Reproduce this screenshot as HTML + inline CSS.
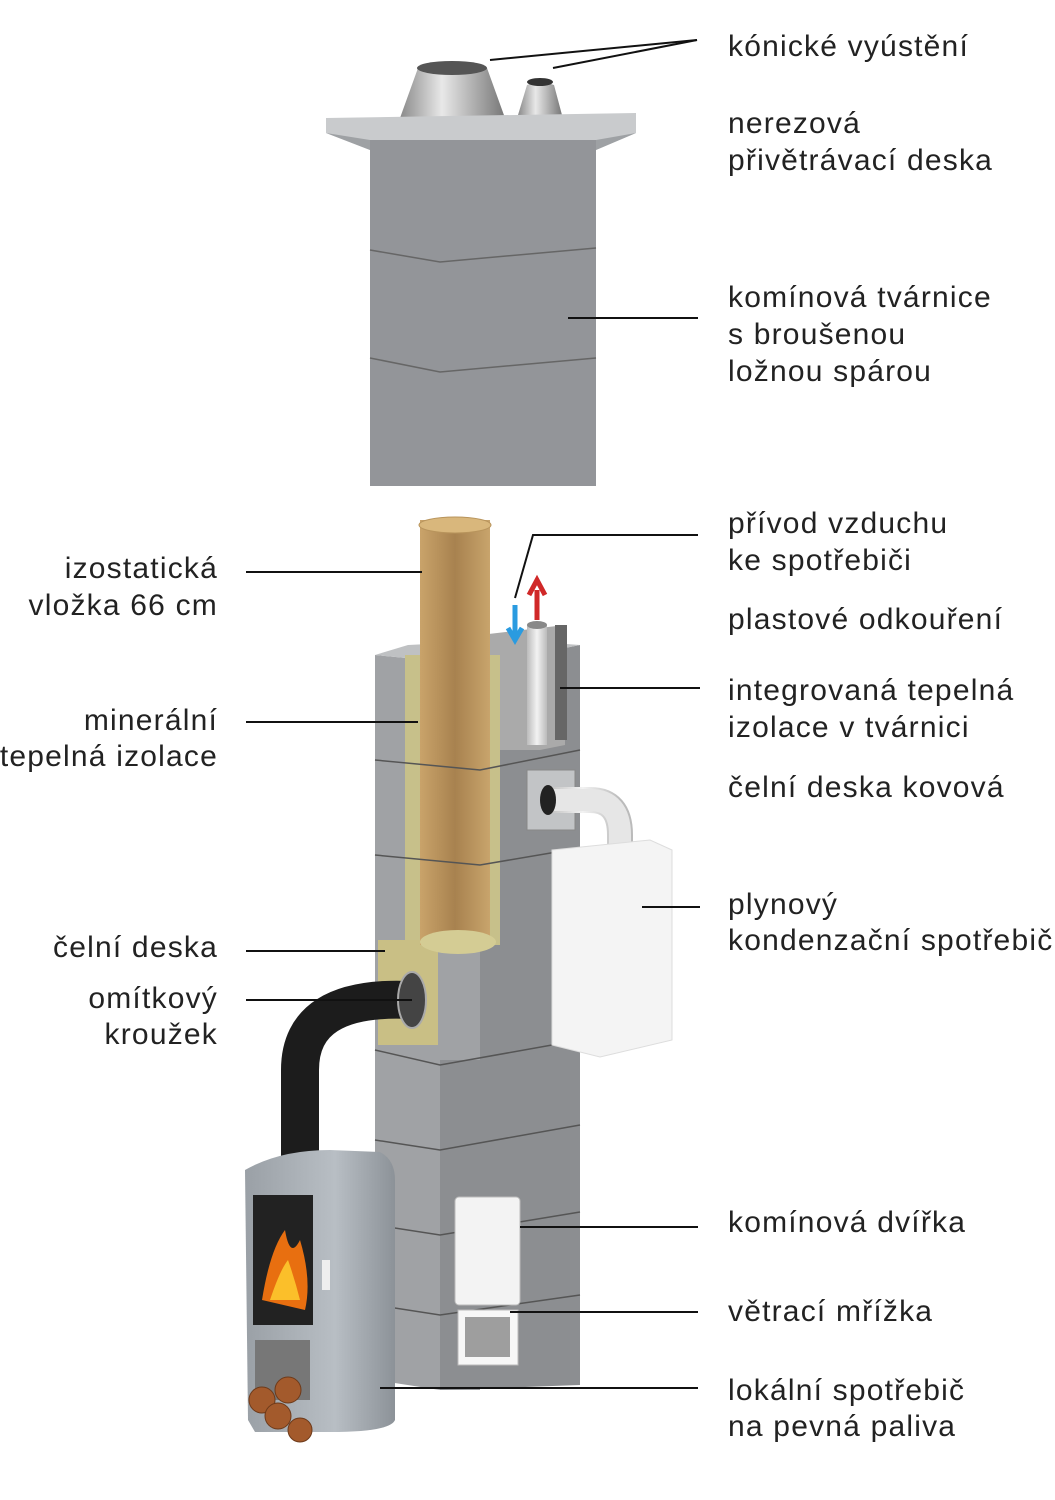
<!DOCTYPE html>
<html><head><meta charset="utf-8"><style>
body{margin:0;background:#fff;}
svg{display:block}
text{font-family:"Liberation Sans",Arial,sans-serif;font-size:30px;letter-spacing:1.2px;fill:#222}
</style></head><body>
<svg width="1055" height="1500" viewBox="0 0 1055 1500" xmlns="http://www.w3.org/2000/svg">
<defs>
<linearGradient id="cone" x1="0" x2="1"><stop offset="0" stop-color="#8a8a8a"/><stop offset=".4" stop-color="#e8e8e8"/><stop offset="1" stop-color="#777"/></linearGradient>
<linearGradient id="liner" x1="0" x2="1"><stop offset="0" stop-color="#c9a36a"/><stop offset=".5" stop-color="#a8824f"/><stop offset="1" stop-color="#c8a46c"/></linearGradient>
<linearGradient id="stove" x1="0" x2="1"><stop offset="0" stop-color="#9aa0a6"/><stop offset=".6" stop-color="#b8bec4"/><stop offset="1" stop-color="#8c9298"/></linearGradient>
<linearGradient id="wpipe" x1="0" x2="1"><stop offset="0" stop-color="#bbb"/><stop offset=".5" stop-color="#f2f2f2"/><stop offset="1" stop-color="#bbb"/></linearGradient>
</defs>

<path d="M400 118 L418 68 Q450 58 487 68 L505 118 Z" fill="url(#cone)"/>
<ellipse cx="452" cy="68" rx="35" ry="7" fill="#555"/>
<path d="M518 115 L527 85 Q540 80 554 85 L562 115 Z" fill="url(#cone)"/>
<ellipse cx="540" cy="82" rx="13" ry="4" fill="#333"/>
<polygon points="326,118 636,113 636,133 596,150 370,150 326,133" fill="#c9cbcd"/>
<polygon points="326,133 370,140 596,140 636,133 596,150 370,150" fill="#9ea1a4"/>
<rect x="370" y="140" width="226" height="346" fill="#939599"/>
<polyline points="370,250 440,262 596,248" stroke="#666" stroke-width="1.5" fill="none"/>
<polyline points="370,358 440,372 596,358" stroke="#666" stroke-width="1.5" fill="none"/>

<polygon points="375,655 480,665 480,1390 440,1390 375,1380" fill="#a0a2a5"/>
<polygon points="480,665 580,645 580,1385 440,1390 440,1060 480,1060" fill="#8c8e91"/>
<polygon points="375,655 408,645 512,640 580,645 480,665" fill="#bfc1c3"/>
<polygon points="480,635 565,625 565,745 540,750 480,750" fill="#aaa"/>
<rect x="555" y="625" width="12" height="115" fill="#666"/>
<rect x="405" y="655" width="95" height="290" fill="#c7c08a"/>
<rect x="378" y="940" width="60" height="105" fill="#c9bf85"/>
<rect x="420" y="520" width="70" height="425" fill="url(#liner)"/>
<ellipse cx="455" cy="525" rx="36" ry="8" fill="#d9b77c" stroke="#b8945c"/>
<ellipse cx="458" cy="942" rx="38" ry="12" fill="#d4cc94"/>
<g stroke="#555" stroke-width="1.5" fill="none">
<polyline points="375,760 480,770 580,750"/>
<polyline points="375,855 480,865 580,848"/>
<polyline points="375,1050 440,1065 580,1040"/>
<polyline points="375,1140 440,1150 580,1125"/>
<polyline points="375,1225 440,1235 580,1212"/>
<polyline points="375,1305 440,1315 580,1295"/>
</g>
<rect x="527" y="625" width="20" height="120" fill="url(#wpipe)"/>
<ellipse cx="537" cy="625" rx="10" ry="4" fill="#888"/>
<path d="M515 605 V635 M508 628 L515 640 L522 628" stroke="#2a9be0" stroke-width="5" fill="none"/>
<path d="M537 620 V590 M529 595 L537 580 L545 595" stroke="#d02828" stroke-width="5" fill="none"/>
<rect x="527" y="770" width="48" height="60" fill="#c2c4c6" stroke="#888"/>
<path d="M545 800 H590 Q620 800 620 835 V850" stroke="url(#wpipe)" stroke-width="26" fill="none"/>
<path d="M545 800 H590 Q620 800 620 835 V850" stroke="#e6e6e6" stroke-width="22" fill="none"/>
<ellipse cx="548" cy="800" rx="8" ry="15" fill="#222"/>
<polygon points="552,850 650,840 672,850 672,1040 600,1057 552,1045" fill="#f4f4f4" stroke="#ddd"/>
<path d="M410 1000 Q300 995 300 1070 V1170" stroke="#1c1c1c" stroke-width="38" fill="none"/>
<ellipse cx="412" cy="1000" rx="14" ry="28" fill="#444" stroke="#aaa" stroke-width="2"/>
<path d="M245 1170 Q280 1150 330 1150 L380 1152 Q395 1160 395 1180 V1420 Q390 1432 330 1432 L255 1432 L248 1420 Z" fill="url(#stove)"/>
<rect x="253" y="1195" width="60" height="130" fill="#222"/>
<path d="M262 1300 Q270 1250 285 1230 Q290 1260 300 1240 Q312 1280 305 1310 Z" fill="#e86f10"/>
<path d="M270 1300 Q280 1270 288 1260 Q295 1280 300 1300 Z" fill="#fbbf2a"/>
<rect x="322" y="1260" width="8" height="30" fill="#eee"/>
<rect x="255" y="1340" width="55" height="60" fill="#777"/>
<g fill="#a35a2c" stroke="#6d3a1a">
<circle cx="262" cy="1400" r="13"/><circle cx="288" cy="1390" r="13"/><circle cx="278" cy="1416" r="13"/><circle cx="300" cy="1430" r="12"/>
</g>
<rect x="455" y="1197" width="65" height="108" rx="4" fill="#f3f3f3" stroke="#bbb"/>
<rect x="458" y="1310" width="60" height="55" fill="#f7f7f7" stroke="#bbb"/>
<rect x="465" y="1317" width="45" height="40" fill="#555" opacity=".55"/>

<g stroke="#111" stroke-width="2" fill="none">
<line x1="697" y1="40" x2="490" y2="60"/>
<line x1="697" y1="40" x2="553" y2="68"/>
<line x1="568" y1="318" x2="698" y2="318"/>
<polyline points="698,535 533,535 515,598"/>
<line x1="560" y1="688" x2="700" y2="688"/>
<line x1="642" y1="907" x2="700" y2="907"/>
<line x1="520" y1="1227" x2="698" y2="1227"/>
<line x1="510" y1="1312" x2="698" y2="1312"/>
<line x1="380" y1="1388" x2="698" y2="1388"/>
<line x1="246" y1="572" x2="422" y2="572"/>
<line x1="246" y1="722" x2="418" y2="722"/>
<line x1="246" y1="951" x2="385" y2="951"/>
<line x1="246" y1="1000" x2="412" y2="1000"/>
</g>

<text x="728" y="56">kónické vyústění</text>
<text x="728" y="133">nerezová</text>
<text x="728" y="170">přivětrávací deska</text>
<text x="728" y="307">komínová tvárnice</text>
<text x="728" y="344">s broušenou</text>
<text x="728" y="381">ložnou spárou</text>
<text x="728" y="533">přívod vzduchu</text>
<text x="728" y="570">ke spotřebiči</text>
<text x="728" y="629">plastové odkouření</text>
<text x="728" y="700">integrovaná tepelná</text>
<text x="728" y="737">izolace v tvárnici</text>
<text x="728" y="797">čelní deska kovová</text>
<text x="728" y="914">plynový</text>
<text x="728" y="950">kondenzační spotřebič</text>
<text x="728" y="1232">komínová dvířka</text>
<text x="728" y="1321">větrací mřížka</text>
<text x="728" y="1400">lokální spotřebič</text>
<text x="728" y="1436">na pevná paliva</text>
<g text-anchor="end">
<text x="218" y="578">izostatická</text>
<text x="218" y="615">vložka 66 cm</text>
<text x="218" y="730">minerální</text>
<text x="218" y="766">tepelná izolace</text>
<text x="218" y="957">čelní deska</text>
<text x="218" y="1008">omítkový</text>
<text x="218" y="1044">kroužek</text>
</g>
</svg>
</body></html>
